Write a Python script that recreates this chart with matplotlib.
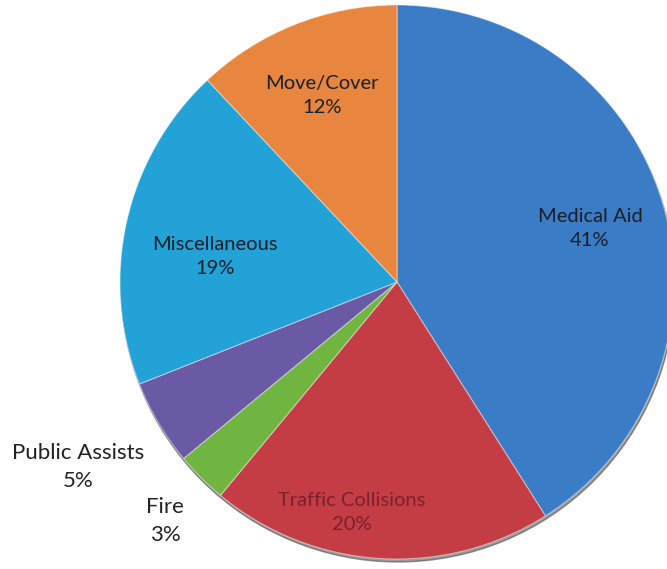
#!/usr/bin/env python3
# -*- coding: utf-8 -*-
"""Incident type breakdown pie chart."""

import numpy as np
import matplotlib
matplotlib.use("Agg")
import matplotlib.pyplot as plt
from matplotlib.patches import Circle

# =============================================================================

CATEGORIES = ["Medical Aid", "Traffic Collisions", "Fire",
              "Public Assists", "Miscellaneous", "Move/Cover"]
SHARES = [41, 20, 3, 5, 19, 12]
COLORS = ["#3b7cc6", "#c43d45", "#6fb540", "#6a5aa6", "#22a2d6", "#e8853e"]

# label placement: (x, y) in figure pixels from the top-left
LABEL_POS = {
    "Medical Aid": (590, 228),
    "Traffic Collisions": (352, 512),
    "Fire": (165, 521),
    "Public Assists": (78, 467),
    "Miscellaneous": (215, 256),
    "Move/Cover": (322, 95),
}
INSIDE = {"Medical Aid", "Traffic Collisions", "Miscellaneous", "Move/Cover"}

W, H = 667, 569
CX, CY, R = 397, 282, 277

plt.rcParams["font.family"] = ["Lato", "DejaVu Sans"]

fig = plt.figure(figsize=(W / 100, H / 100), dpi=100)
ax = fig.add_axes([0, 0, 1, 1])

# soft rim under the disc
ax.add_patch(Circle((CX + 1, H - CY - 3), R, color="#3a3a3a", alpha=0.5, zorder=0))

wedges, _ = ax.pie(
    SHARES,
    colors=COLORS,
    startangle=90,
    counterclock=False,
    center=(CX, H - CY),
    radius=R,
    wedgeprops=dict(edgecolor=(1, 1, 1, 0.45), linewidth=0.8),
    frame=True,
)
ax.set_xlim(0, W)
ax.set_ylim(0, H)
ax.set_aspect("equal")
ax.axis("off")

for name, share in zip(CATEGORIES, SHARES):
    x, y = LABEL_POS[name]
    if name in INSIDE:
        color = "#7a2030" if name == "Traffic Collisions" else "#18202c"
        ax.text(x, H - y, f"{name}\n{share}%", ha="center", va="center",
                fontsize=14.5, color=color, linespacing=1.5)
    else:
        ax.text(x, H - y, f"{name}\n{share}%", ha="center", va="center",
                fontsize=16, color="#222222", linespacing=1.5)

fig.savefig("out.png", dpi=100)
